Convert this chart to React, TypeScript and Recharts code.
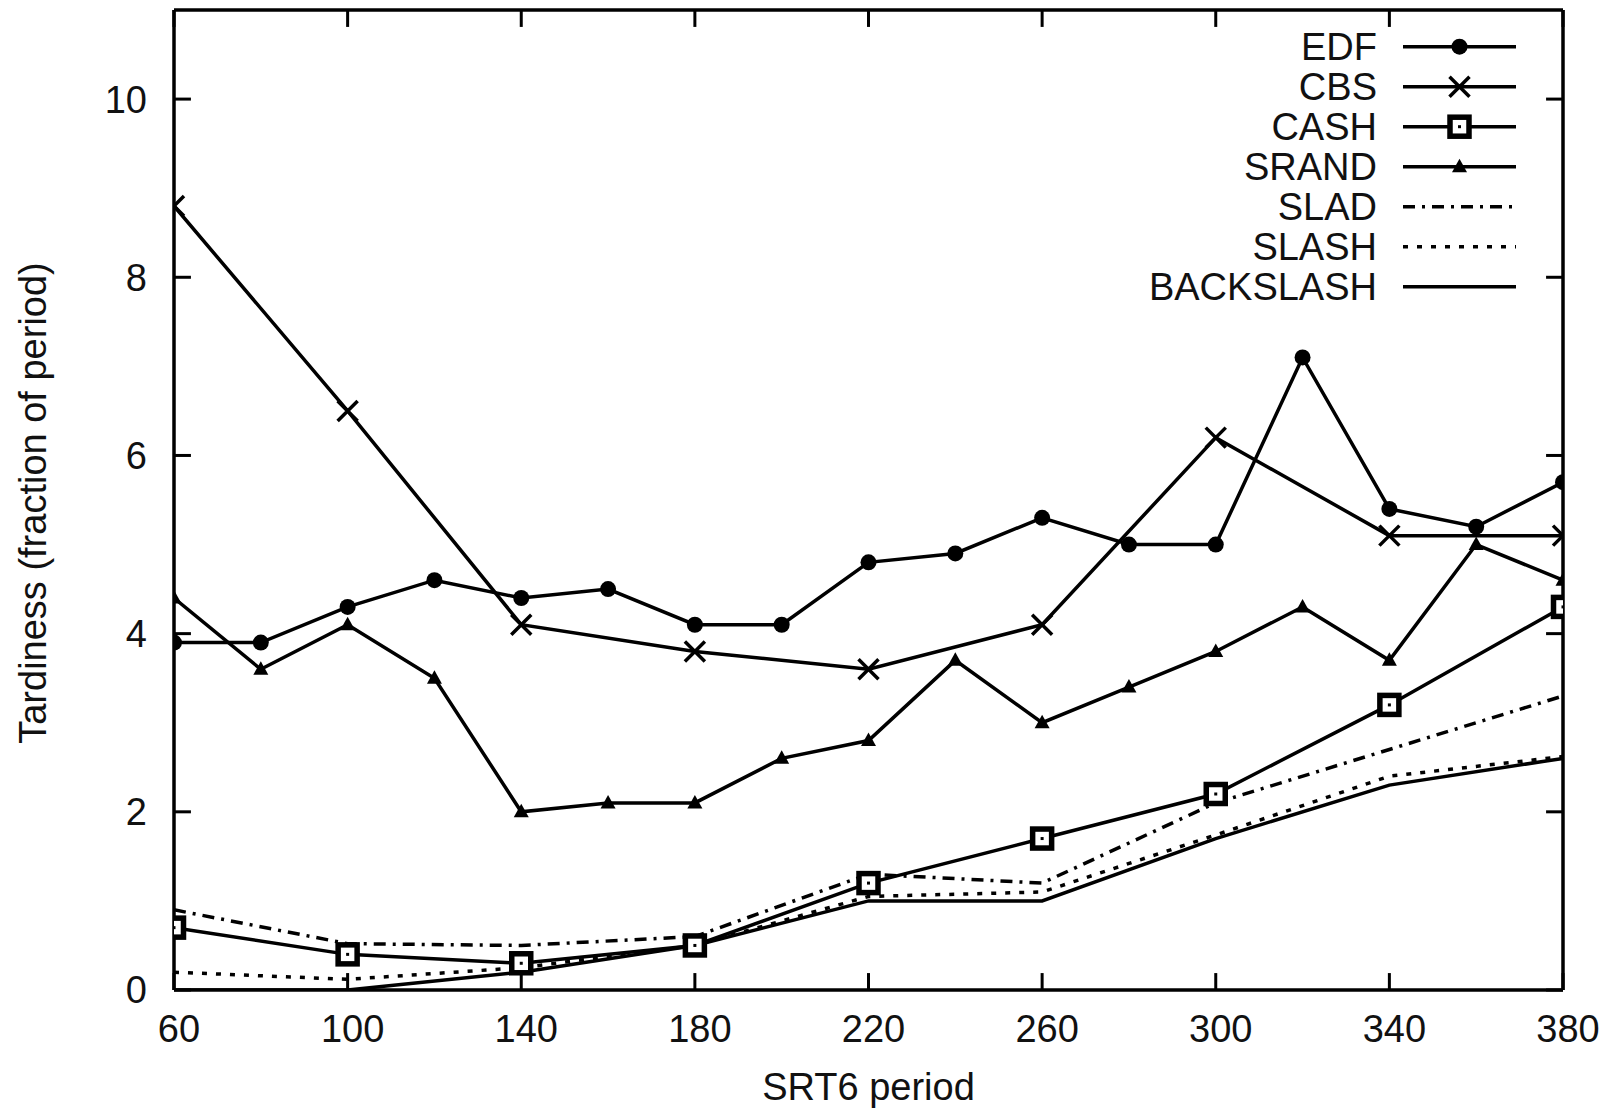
import React from 'react'
import { LineChart, Line, XAxis, YAxis, Legend, ReferenceLine } from 'recharts'

// periods sampled every 20 (EDF, SRAND) and every 40 (the rest)
const periodsFine = [60, 80, 100, 120, 140, 160, 180, 200, 220, 240, 260, 280, 300, 320, 340, 360, 380]
const periodsCoarse = [60, 100, 140, 180, 220, 260, 300, 340, 380]

const edf = [3.9, 3.9, 4.3, 4.6, 4.4, 4.5, 4.1, 4.1, 4.8, 4.9, 5.3, 5.0, 5.0, 7.1, 5.4, 5.2, 5.7]
const srand = [4.4, 3.6, 4.1, 3.5, 2.0, 2.1, 2.1, 2.6, 2.8, 3.7, 3.0, 3.4, 3.8, 4.3, 3.7, 5.0, 4.6]
const cbs = [8.8, 6.5, 4.1, 3.8, 3.6, 4.1, 6.2, 5.1, 5.1]
const cash = [0.7, 0.4, 0.3, 0.5, 1.2, 1.7, 2.2, 3.2, 4.3]
const slad = [0.9, 0.52, 0.5, 0.6, 1.3, 1.2, 2.1, 2.7, 3.3]
const slash = [0.2, 0.12, 0.25, 0.5, 1.05, 1.1, 1.74, 2.4, 2.62]
const backslash = [0, 0, 0.2, 0.5, 1.0, 1.0, 1.7, 2.3, 2.6]

const xTicks = [60, 100, 140, 180, 220, 260, 300, 340, 380]
const yTicks = [0, 2, 4, 6, 8, 10]
const xDomain = [60, 380]
const yDomain = [0, 11]

// inward tick length (~17px) expressed in axis units
const TICK_X = 3.9
const TICK_Y = 0.19

const FONT = '"Liberation Sans", Arial, Helvetica, sans-serif'

type MarkerKind = 'circle' | 'cross' | 'box' | 'triangle' | 'none'

function Marker({ kind, cx, cy }: { kind: MarkerKind; cx: number; cy: number }) {
  if (cx == null || cy == null || isNaN(cx) || isNaN(cy)) return <g />
  switch (kind) {
    case 'circle':
      return <circle cx={cx} cy={cy} r={8} fill="#000" />
    case 'cross':
      return (
        <path
          d={`M${cx - 10},${cy - 10}L${cx + 10},${cy + 10}M${cx - 10},${cy + 10}L${cx + 10},${cy - 10}`}
          stroke="#000"
          strokeWidth={3.5}
          fill="none"
        />
      )
    case 'box':
      return (
        <g>
          <rect x={cx - 9.5} y={cy - 9.5} width={19} height={19} fill="#fff" stroke="#000" strokeWidth={5.5} />
          <rect x={cx - 1.5} y={cy - 1.5} width={3} height={3} fill="#000" />
        </g>
      )
    case 'triangle':
      return <path d={`M${cx},${cy - 8}L${cx + 7.5},${cy + 5.5}L${cx - 7.5},${cy + 5.5}Z`} fill="#000" />
    default:
      return <g />
  }
}

const series: { name: string; x: number[]; y: number[]; marker: MarkerKind; dash?: string }[] = [
  { name: 'EDF', x: periodsFine, y: edf, marker: 'circle' },
  { name: 'CBS', x: periodsCoarse, y: cbs, marker: 'cross' },
  { name: 'CASH', x: periodsCoarse, y: cash, marker: 'box' },
  { name: 'SRAND', x: periodsFine, y: srand, marker: 'triangle' },
  { name: 'SLAD', x: periodsCoarse, y: slad, marker: 'none', dash: '12 7 3 7' },
  { name: 'SLASH', x: periodsCoarse, y: slash, marker: 'none', dash: '5 9' },
  { name: 'BACKSLASH', x: periodsCoarse, y: backslash, marker: 'none' },
]

const toRows = (x: number[], y: number[]) => x.map((p, i) => ({ period: p, value: y[i] }))

const renderLegend = () => (
  <svg width={460} height={290} style={{ display: 'block' }}>
    {series.map((s, i) => {
      const cy = 26.7 + i * 40
      return (
        <g key={s.name}>
          <text x={277} y={cy + 13.5} textAnchor="end" fontSize={38} fontFamily={FONT} fill="#111">
            {s.name}
          </text>
          <line x1={303} x2={416} y1={cy} y2={cy} stroke="#000" strokeWidth={3.5} strokeDasharray={s.dash} />
          {s.marker !== 'none' && <Marker kind={s.marker} cx={359.5} cy={cy} />}
        </g>
      )
    })}
  </svg>
)

const axisLine = { stroke: '#000', strokeWidth: 3.5 }
const tickStyle = { fill: '#111', fontSize: 38, fontFamily: FONT }
const refProps = { xAxisId: 'x', yAxisId: 'y', stroke: '#000', ifOverflow: 'visible' as const }

export default function App() {
  const [x0, x1] = xDomain
  const [y0, y1] = yDomain
  return (
    <div style={{ position: 'absolute', left: 0, top: 0, background: '#fff' }}>
      <LineChart width={1609} height={1111} margin={{ top: 10, right: 46, left: 0, bottom: 0 }}>
        <XAxis
          xAxisId="x"
          type="number"
          dataKey="period"
          domain={xDomain}
          ticks={xTicks}
          interval={0}
          allowDataOverflow
          height={121}
          tickSize={0}
          tickMargin={25}
          axisLine={axisLine}
          tickLine={false}
          tick={{ ...tickStyle, dx: 5 }}
          label={(props: any) => {
            const vb = props.viewBox
            return (
              <text x={vb.x + vb.width / 2} y={vb.y + 110} textAnchor="middle" fontSize={38} fontFamily={FONT} fill="#111">
                SRT6 period
              </text>
            )
          }}
        />
        <YAxis
          yAxisId="y"
          type="number"
          domain={yDomain}
          ticks={yTicks}
          interval={0}
          allowDataOverflow
          width={174}
          tickSize={0}
          tickMargin={27}
          axisLine={axisLine}
          tickLine={false}
          tick={tickStyle}
          label={(props: any) => {
            const vb = props.viewBox
            return (
              <text
                transform={`translate(46, ${vb.y + vb.height / 2 + 3}) rotate(-90)`}
                textAnchor="middle"
                fontSize={38}
                fontFamily={FONT}
                fill="#111"
              >
                Tardiness (fraction of period)
              </text>
            )
          }}
        />

        {/* top and right frame */}
        <ReferenceLine {...refProps} y={y1} strokeWidth={3.5} />
        <ReferenceLine {...refProps} x={x1} strokeWidth={3.5} />

        {/* inward ticks on all four sides */}
        {xTicks.map((t) => (
          <ReferenceLine key={`xb-${t}`} {...refProps} strokeWidth={3} segment={[{ x: t, y: y0 }, { x: t, y: y0 + TICK_Y }]} />
        ))}
        {xTicks.map((t) => (
          <ReferenceLine key={`xt-${t}`} {...refProps} strokeWidth={3} segment={[{ x: t, y: y1 }, { x: t, y: y1 - TICK_Y }]} />
        ))}
        {yTicks.map((t) => (
          <ReferenceLine key={`yl-${t}`} {...refProps} strokeWidth={3} segment={[{ x: x0, y: t }, { x: x0 + TICK_X, y: t }]} />
        ))}
        {yTicks.map((t) => (
          <ReferenceLine key={`yr-${t}`} {...refProps} strokeWidth={3} segment={[{ x: x1, y: t }, { x: x1 - TICK_X, y: t }]} />
        ))}

        <Legend
          layout="vertical"
          align="center"
          verticalAlign="middle"
          width={460}
          height={290}
          wrapperStyle={{ left: 1100, top: 20, width: 460, height: 290 }}
          content={renderLegend}
        />
        {series.map((s) => (
          <Line
            key={s.name}
            xAxisId="x"
            yAxisId="y"
            name={s.name}
            data={toRows(s.x, s.y)}
            dataKey="value"
            type="linear"
            stroke="#000"
            strokeWidth={3.5}
            strokeDasharray={s.dash}
            dot={
              s.marker === 'none'
                ? false
                : (p: any) => <Marker key={`${s.name}-${p.index}`} kind={s.marker} cx={p.cx} cy={p.cy} />
            }
            activeDot={false}
            isAnimationActive={false}
          />
        ))}
      </LineChart>
    </div>
  )
}
